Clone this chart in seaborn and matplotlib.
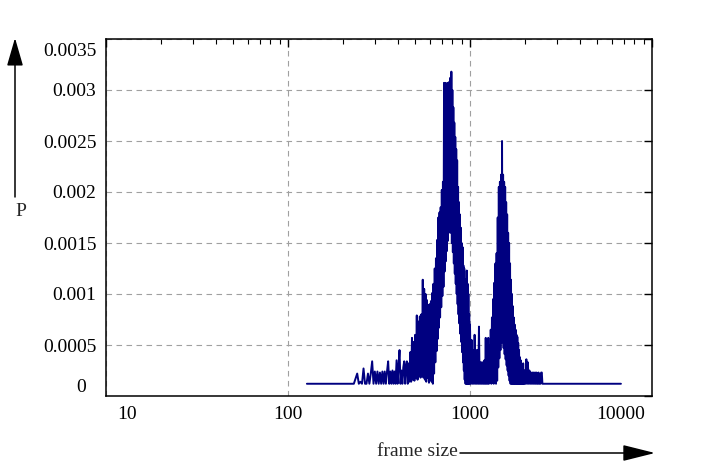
import matplotlib
matplotlib.use("Agg")
import matplotlib.pyplot as plt
import seaborn as sns
import pandas as pd
from matplotlib.patches import FancyArrowPatch
from matplotlib.ticker import NullFormatter
from matplotlib.transforms import ScaledTranslation

# frame size histogram
frame_size = [
    127, 230,
    240, 245, 250, 255, 260, 265, 270, 275,
    280, 285, 290, 295, 300, 305, 310, 315,
    320, 325, 330, 335, 340, 345, 350, 355,
    360, 365, 370, 375, 380, 385, 390, 395,
    400, 405, 410, 415, 420, 425, 430, 435,
    440, 445, 450, 455, 460, 465, 470, 475,
    480, 485, 490, 495, 500, 505, 510, 515,
    520, 525, 530, 535, 540, 545, 550, 555,
    560, 565, 570, 575, 580, 585, 590, 595,
    600, 605, 610, 615, 620, 625, 630, 635,
    640, 645, 650, 655, 660, 665, 670, 675,
    680, 685, 690, 695, 700, 705, 710, 715,
    720, 725, 730, 735, 740, 745, 750, 755,
    760, 765, 770, 775, 780, 785, 790, 795,
    800, 805, 810, 815, 820, 825, 830, 835,
    840, 845, 850, 855, 860, 865, 870, 875,
    880, 885, 890, 895, 900, 905, 910, 915,
    920, 925, 930, 935, 940, 945, 950, 955,
    960, 965, 970, 975, 980, 985, 990, 995,
    1000,
    1010, 1020, 1030, 1040, 1050, 1060, 1070, 1080, 1090, 1100,
    1110, 1120, 1130, 1140, 1150, 1160, 1170, 1180, 1190, 1200,
    1210, 1220, 1230, 1240, 1250, 1260, 1270, 1280, 1290, 1300,
    1310, 1320, 1330, 1340, 1350, 1360, 1370, 1380, 1390, 1400,
    1410, 1420, 1430, 1440, 1450, 1460, 1470, 1480, 1490, 1500,
    1510, 1520, 1530, 1540, 1550, 1560, 1570, 1580, 1590, 1600,
    1610, 1620, 1630, 1640, 1650, 1660, 1670, 1680, 1690, 1700,
    1710, 1720, 1730, 1740, 1750, 1760, 1770, 1780, 1790, 1800,
    1810, 1820, 1830, 1840, 1850, 1860, 1870, 1880, 1890, 1900,
    1910, 1920, 1930, 1940, 1950, 1960, 1970, 1980, 1990, 2000,
    2020, 2040, 2060, 2080, 2100, 2120, 2140, 2160, 2180, 2200,
    2220, 2240, 2260, 2280, 2300, 2320, 2340, 2360, 2380, 2400,
    2420, 2440, 2460, 2480, 2500,
    6750,
]
prob = [
    0.00012, 0.00012,
    0.00022, 0.00012, 0.00014, 0.00012, 0.00027, 0.00012, 0.00012, 0.00022,
    0.00012, 0.00022, 0.00034, 0.00012, 0.00024, 0.00012, 0.00024, 0.00012,
    0.00023, 0.00012, 0.00024, 0.00012, 0.00024, 0.00012, 0.00024, 0.00034,
    0.00012, 0.00024, 0.00012, 0.00025, 0.00012, 0.00024, 0.00012, 0.00035,
    0.00012, 0.00030, 0.00045, 0.00012, 0.00025, 0.00012, 0.00028, 0.00034,
    0.00012, 0.00030, 0.00034, 0.00012, 0.00032, 0.00014, 0.00043, 0.00014,
    0.00057, 0.00016, 0.00053, 0.00015, 0.00060, 0.00018, 0.00079, 0.00016,
    0.00073, 0.00020, 0.00078, 0.00018, 0.00080, 0.00020, 0.00114, 0.00018,
    0.00105, 0.00016, 0.00100, 0.00014, 0.00094, 0.00018, 0.00089, 0.00013,
    0.00090, 0.00016, 0.00093, 0.00014, 0.00101, 0.00012, 0.00110, 0.00022,
    0.00125, 0.00033, 0.00135, 0.00044, 0.00153, 0.00056, 0.00175, 0.00067,
    0.00180, 0.00077, 0.00185, 0.00087, 0.00202, 0.00098, 0.00210, 0.00107,
    0.00307, 0.00122, 0.00307, 0.00132, 0.00285, 0.00142, 0.00307, 0.00152,
    0.00307, 0.00160, 0.00308, 0.00167, 0.00312, 0.00160, 0.00318, 0.00150,
    0.00300, 0.00141, 0.00283, 0.00130, 0.00268, 0.00120, 0.00254, 0.00110,
    0.00242, 0.00100, 0.00231, 0.00090, 0.00205, 0.00080, 0.00190, 0.00071,
    0.00178, 0.00061, 0.00165, 0.00053, 0.00150, 0.00043, 0.00146, 0.00033,
    0.00128, 0.00025, 0.00125, 0.00016, 0.00114, 0.00012, 0.00114, 0.00012,
    0.00123, 0.00012, 0.00110, 0.00012, 0.00100, 0.00012, 0.00080, 0.00012,
    0.00070,
    0.00012, 0.00055, 0.00012, 0.00045, 0.00012, 0.00060, 0.00012, 0.00045, 0.00012, 0.00045,
    0.00012, 0.00068, 0.00012, 0.00033, 0.00012, 0.00033, 0.00012, 0.00033, 0.00012, 0.00035,
    0.00012, 0.00057, 0.00012, 0.00045, 0.00012, 0.00057, 0.00012, 0.00050, 0.00013, 0.00065,
    0.00012, 0.00077, 0.00013, 0.00095, 0.00012, 0.00111, 0.00014, 0.00130, 0.00012, 0.00140,
    0.00015, 0.00175, 0.00028, 0.00205, 0.00037, 0.00210, 0.00045, 0.00217, 0.00052, 0.00250,
    0.00053, 0.00217, 0.00047, 0.00210, 0.00041, 0.00205, 0.00036, 0.00190, 0.00030, 0.00178,
    0.00025, 0.00160, 0.00020, 0.00150, 0.00015, 0.00130, 0.00012, 0.00114, 0.00012, 0.00100,
    0.00012, 0.00088, 0.00012, 0.00077, 0.00012, 0.00070, 0.00012, 0.00065, 0.00012, 0.00060,
    0.00012, 0.00058, 0.00012, 0.00052, 0.00012, 0.00045, 0.00012, 0.00038, 0.00012, 0.00035,
    0.00012, 0.00025, 0.00012, 0.00025, 0.00012, 0.00032, 0.00012, 0.00025, 0.00012, 0.00025,
    0.00012, 0.00036, 0.00012, 0.00033, 0.00012, 0.00025, 0.00012, 0.00023, 0.00012, 0.00023,
    0.00012, 0.00023, 0.00012, 0.00023, 0.00012, 0.00023, 0.00012, 0.00012, 0.00023, 0.00012,
    0.00012, 0.00012, 0.00023, 0.00023, 0.00012,
    0.00012,
]
assert len(frame_size) == len(prob)

x_ticks = [10, 100, 1000, 10000]
x_tick_labels = ["10", "100", "1000", "10000"]
y_ticks = [0, 0.0005, 0.001, 0.0015, 0.002, 0.0025, 0.003, 0.0035]
y_tick_labels = ["0", "0.0005", "0.001", "0.0015", "0.002", "0.0025", "0.003", "0.0035"]

W, H = 705, 472

sns.set_theme(style="white")
plt.rcParams["font.family"] = ["Liberation Serif", "DejaVu Serif"]
plt.rcParams["font.size"] = 14

fig = plt.figure(figsize=(W / 100, H / 100), dpi=100)
fig.patch.set_facecolor("white")
ax = fig.add_axes([106 / W, 76 / H, 546 / W, 357 / H])
ax.set_facecolor("white")

df = pd.DataFrame({"frame size": frame_size, "P": prob})
sns.lineplot(data=df, x="frame size", y="P", estimator=None, sort=False,
             color="#000080", linewidth=1.4, ax=ax)

ax.set_xscale("log")
ax.set_xlim(10, 10000)
ax.set_ylim(0, 0.0035)
ax.set_xticks(x_ticks)
ax.set_xticklabels(x_tick_labels)
ax.xaxis.set_minor_formatter(NullFormatter())
ax.set_yticks(y_ticks)
ax.set_yticklabels(y_tick_labels)
ax.set_xlabel("")
ax.set_ylabel("")

ax.set_axisbelow(True)
ax.grid(True, which="major", color="#a0a0a0", linestyle=(0, (5, 4)), linewidth=0.8)
for s in ax.spines.values():
    s.set_color("black")
    s.set_linewidth(1.1)
ax.tick_params(which="major", direction="in", top=True, right=True,
               length=6, width=1, labelsize=14, colors="black", pad=7)
ax.tick_params(which="minor", direction="in", top=True, right=True,
               length=3.5, width=0.8, colors="black")


# nudge the edge labels inside, gnuplot style
def nudge(lbl, dx, dy):
    lbl.set_transform(lbl.get_transform() + ScaledTranslation(dx / 100, dy / 100, fig.dpi_scale_trans))


xl = ax.get_xticklabels()
nudge(xl[0], 21, 0)
nudge(xl[-1], -31, 0)
yl = ax.get_yticklabels()
nudge(yl[0], -10, 10)
nudge(yl[-1], 0, -11)

# axis labels with arrows
fig.add_artist(FancyArrowPatch((15 / W, 1 - 197 / H), (15 / W, 1 - 38 / H),
                               transform=fig.transFigure,
                               arrowstyle="-|>,head_length=1.73,head_width=0.5",
                               mutation_scale=10, color="black", lw=1.1,
                               shrinkA=0, shrinkB=0))
fig.text(21 / W, 1 - 212 / H, "P", ha="center", va="center", fontsize=14)

fig.add_artist(FancyArrowPatch((460 / W, 1 - 453 / H), (655 / W, 1 - 453 / H),
                               transform=fig.transFigure,
                               arrowstyle="-|>,head_length=2.0,head_width=0.5",
                               mutation_scale=10, color="black", lw=1.1,
                               shrinkA=0, shrinkB=0))
fig.text(458 / W, 1 - 452 / H, "frame size", ha="right", va="center", fontsize=14)

fig.savefig("out.png", dpi=100)
